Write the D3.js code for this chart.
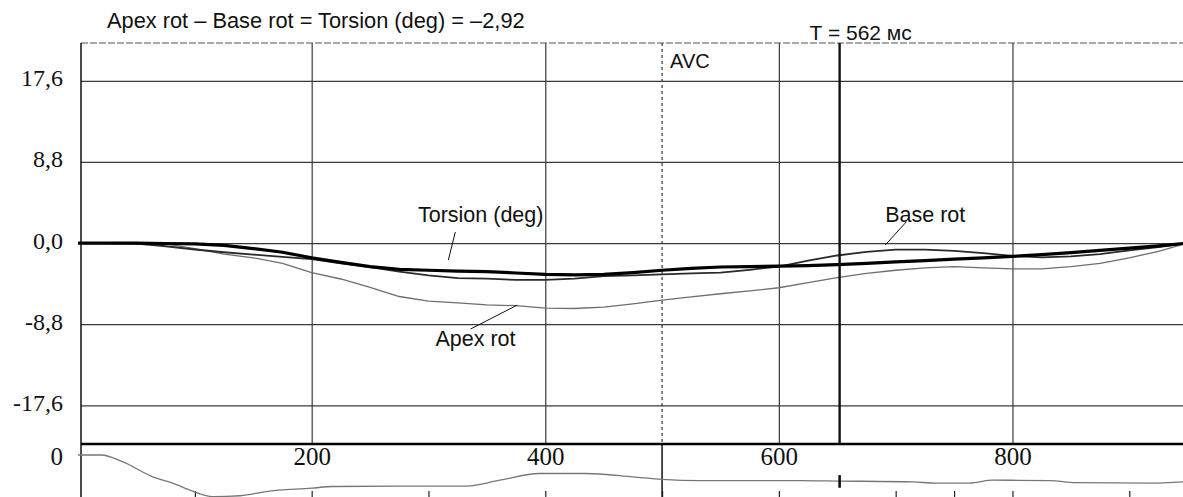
<!DOCTYPE html>
<html>
<head>
<meta charset="utf-8">
<script src="https://cdn.jsdelivr.net/npm/d3@7"></script>
<style>
  body { margin: 0; background: #fff; }
  svg { display: block; }
</style>
</head>
<body>
<div id="chart"></div>
<script>
// time axis (ms) of the rotation samples
const timeMs  = [0,25,50,75,100,125,150,175,200,225,250,275,300,325,350,375,400,425,450,475,500,525,550,575,600,625,650,675,700,725,750,775,800,825,850,875,900,925,946];
const torsion = [0,0,0,-0.05,-0.1,-0.25,-0.6,-1.0,-1.6,-2.1,-2.55,-2.85,-2.95,-3.05,-3.1,-3.25,-3.4,-3.45,-3.4,-3.2,-2.95,-2.75,-2.6,-2.55,-2.5,-2.45,-2.35,-2.2,-2.05,-1.9,-1.75,-1.6,-1.45,-1.25,-1.05,-0.8,-0.55,-0.3,-0.05];
const baseRot = [0,0,-0.05,-0.35,-0.7,-1.0,-1.25,-1.5,-1.75,-2.2,-2.6,-3.1,-3.5,-3.8,-3.85,-4.0,-4.0,-3.85,-3.6,-3.5,-3.4,-3.3,-3.2,-2.9,-2.55,-1.9,-1.35,-0.95,-0.72,-0.72,-0.85,-1.1,-1.4,-1.55,-1.45,-1.2,-0.8,-0.45,-0.1];
const apexRot = [0,0,0,-0.1,-0.6,-1.2,-1.6,-2.2,-3.2,-3.9,-4.8,-5.8,-6.3,-6.5,-6.7,-6.8,-7.05,-7.1,-6.95,-6.6,-6.2,-5.85,-5.5,-5.2,-4.85,-4.3,-3.75,-3.3,-2.95,-2.7,-2.55,-2.7,-2.8,-2.8,-2.55,-2.2,-1.6,-0.9,-0.15];

// ECG strip under the plot
const ecgTime = [0,20,38,64,81,98,115,139,161,200,218,275,333,361,395,435,475,500,532,618,652,715,734,763,783,832,854,918,946];
const ecgVals = [0,0,-0.16,-0.52,-0.67,-0.86,-0.99,-0.97,-0.87,-0.79,-0.75,-0.74,-0.74,-0.60,-0.44,-0.44,-0.52,-0.58,-0.61,-0.61,-0.62,-0.64,-0.67,-0.67,-0.60,-0.61,-0.66,-0.67,-0.64];

const yTicks = [17.6, 8.8, 0, -8.8, -17.6];
const yTickLabels = ["17,6", "8,8", "0,0", "-8,8", "-17,6"];
const xTicks = [200, 400, 600, 800];
const xMinorTicks = [100, 200, 300, 400, 500, 600, 700, 750, 800, 900];

const avcTime = 500;
const cursorTime = 652;
const titleText = "Apex rot \u2013 Base rot = Torsion (deg) = \u20132,92";
const cursorText = "T = 562 мс";

// label anchors in data units: label x/y, then pointer x1, y1, x2, y2
const annotations = [
  {text: "Torsion (deg)", lx: 291, ly: 2.28, p: [323, 1.2, 317, -1.85]},
  {text: "Base rot",      lx: 691, ly: 2.28, p: [709, 2.28, 691, -0.22]},
  {text: "Apex rot",      lx: 306, ly: -11.17, p: [336, -9.33, 376, -6.73]}
];

const W = 1183, H = 497;
const plotLeft = 81, plotTop = 43, mainBottom = 444;
const sans = "'Liberation Sans', Arial, sans-serif";
const serif = "'Liberation Serif', 'Times New Roman', serif";

const svg = d3.select("#chart").append("svg")
  .attr("width", W).attr("height", H);

const x = d3.scaleLinear().domain([2.5, 946]).range([plotLeft, W]);
const y = d3.scaleLinear().domain([-21.8, 21.7]).range([mainBottom, plotTop]);
const ecgY = d3.scaleLinear().domain([0, -1]).range([455, 497]);

// horizontal grid + y labels
const gy = svg.append("g")
  .attr("transform", `translate(${plotLeft},0)`)
  .call(d3.axisLeft(y).tickValues(yTicks).tickSize(-(W - plotLeft)).tickPadding(18)
    .tickFormat((d, i) => yTickLabels[i]));
gy.select(".domain").remove();
gy.selectAll(".tick line").attr("stroke", "#3a3a3a").attr("stroke-width", 1.2);
gy.selectAll(".tick text")
  .attr("font-family", serif).attr("font-size", 24).attr("fill", "#111")
  .attr("dy", 5);

// vertical grid
const gx = svg.append("g")
  .attr("transform", `translate(0,${plotTop})`)
  .call(d3.axisTop(x).tickValues(xTicks).tickSize(-(mainBottom - plotTop)).tickFormat(""));
gx.select(".domain").remove();
gx.selectAll(".tick line").attr("stroke", "#3a3a3a").attr("stroke-width", 1.2);

// x labels in the strip
const gxl = svg.append("g")
  .attr("transform", `translate(0,${mainBottom})`)
  .call(d3.axisBottom(x).tickValues(xTicks).tickSize(0).tickPadding(3));
gxl.select(".domain").remove();
gxl.selectAll(".tick text")
  .attr("font-family", serif).attr("font-size", 25).attr("fill", "#111");

// small ticks at the bottom edge
const gm = svg.append("g")
  .attr("transform", `translate(0,${H})`)
  .call(d3.axisTop(x).tickValues(xMinorTicks).tickSize(6).tickFormat(""));
gm.select(".domain").remove();
gm.selectAll(".tick line").attr("stroke", "#222").attr("stroke-width", 1.2);

// top dashed border
svg.append("line")
  .attr("x1", plotLeft).attr("x2", W).attr("y1", plotTop).attr("y2", plotTop)
  .attr("stroke", "#555").attr("stroke-width", 1.2).attr("stroke-dasharray", "7,2");

// left axis
svg.append("line")
  .attr("x1", plotLeft).attr("x2", plotLeft).attr("y1", plotTop).attr("y2", H)
  .attr("stroke", "#111").attr("stroke-width", 1.5);

// AVC marker
svg.append("line")
  .attr("x1", x(avcTime)).attr("x2", x(avcTime)).attr("y1", plotTop).attr("y2", mainBottom)
  .attr("stroke", "#333").attr("stroke-width", 1.2).attr("stroke-dasharray", "3,3");
svg.append("line")
  .attr("x1", x(avcTime)).attr("x2", x(avcTime)).attr("y1", mainBottom).attr("y2", H)
  .attr("stroke", "#111").attr("stroke-width", 1.5);
svg.append("text")
  .attr("x", x(avcTime) + 8).attr("y", y(19))
  .attr("font-family", sans).attr("font-size", 20).attr("fill", "#111")
  .text("AVC");

// series
const line = d3.line().x((d, i) => x(timeMs[i])).y(d => y(d));
svg.append("path").datum(apexRot).attr("d", line)
  .attr("fill", "none").attr("stroke", "#6e6e6e").attr("stroke-width", 1.3);
svg.append("path").datum(baseRot).attr("d", line)
  .attr("fill", "none").attr("stroke", "#2a2a2a").attr("stroke-width", 1.8);
svg.append("path").datum(torsion).attr("d", line)
  .attr("fill", "none").attr("stroke", "#000").attr("stroke-width", 3.2);

// ECG
const ecgLine = d3.line().curve(d3.curveMonotoneX)
  .x((d, i) => x(ecgTime[i])).y(d => ecgY(d));
svg.append("path").datum(ecgVals).attr("d", ecgLine)
  .attr("fill", "none").attr("stroke", "#777").attr("stroke-width", 1.3);
svg.append("text")
  .attr("x", plotLeft - 18).attr("y", ecgY(0) + 10)
  .attr("text-anchor", "end")
  .attr("font-family", serif).attr("font-size", 25).attr("fill", "#111")
  .text("0");

// separator between rotation plot and ECG
svg.append("line")
  .attr("x1", plotLeft).attr("x2", W).attr("y1", mainBottom).attr("y2", mainBottom)
  .attr("stroke", "#000").attr("stroke-width", 2.6);

// cursor
svg.append("line")
  .attr("x1", x(cursorTime)).attr("x2", x(cursorTime)).attr("y1", plotTop).attr("y2", mainBottom)
  .attr("stroke", "#111").attr("stroke-width", 2.4);
svg.append("line")
  .attr("x1", x(cursorTime)).attr("x2", x(cursorTime)).attr("y1", ecgY(-0.48)).attr("y2", ecgY(-0.78))
  .attr("stroke", "#111").attr("stroke-width", 2.6);
svg.append("text")
  .attr("x", x(cursorTime) - 30).attr("y", plotTop - 3)
  .attr("font-family", sans).attr("font-size", 21).attr("fill", "#111")
  .text(cursorText);

// title
svg.append("text")
  .attr("x", 107).attr("y", 28)
  .attr("font-family", sans).attr("font-size", 21.8).attr("fill", "#111")
  .text(titleText);

// series labels with pointers
annotations.forEach(a => {
  svg.append("line")
    .attr("x1", x(a.p[0])).attr("y1", y(a.p[1]))
    .attr("x2", x(a.p[2])).attr("y2", y(a.p[3]))
    .attr("stroke", "#111").attr("stroke-width", 1);
  svg.append("text")
    .attr("x", x(a.lx)).attr("y", y(a.ly))
    .attr("font-family", sans).attr("font-size", 21.5).attr("fill", "#111")
    .text(a.text);
});
</script>
</body>
</html>
